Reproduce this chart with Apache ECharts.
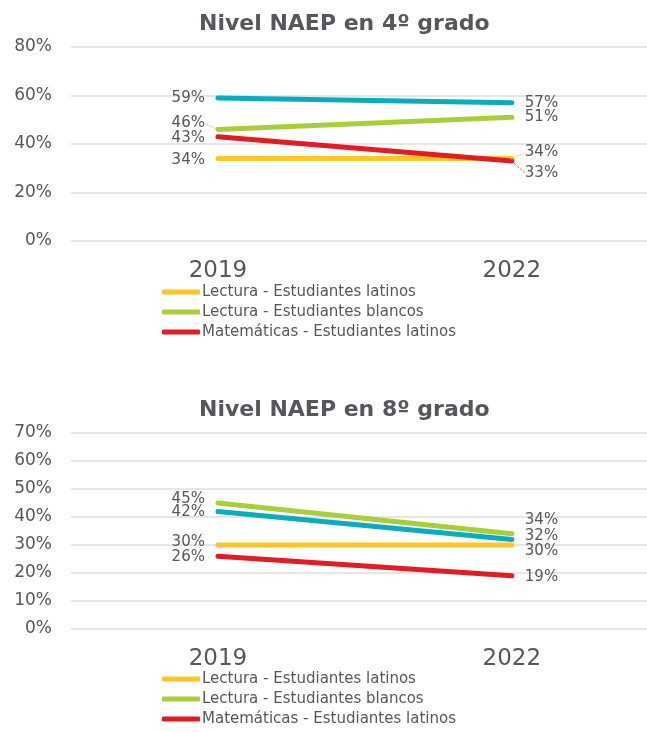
<!DOCTYPE html>
<html>
<head>
<meta charset="utf-8">
<script src="https://cdn.jsdelivr.net/npm/echarts@6/dist/echarts.min.js"></script>
<style>
  html, body { margin: 0; padding: 0; background: #fff; }
  #main { width: 647px; height: 732px; }
</style>
</head>
<body>
<div id="main"></div>
<script>
// años y nombres de las series
var years = [2019, 2022];
var seriesNames = ['Lectura - Estudiantes latinos', 'Lectura - Estudiantes blancos',
    'Matemáticas - Estudiantes latinos', 'Matemáticas - Estudiantes blancos'];
var legendNames = seriesNames.slice(0, 3);

// 4º grado
var g4Lectura_latinos = [34, 34];
var g4Lectura_blancos = [46, 51];
var g4Mate_latinos = [43, 33];
var g4Mate_blancos = [59, 57];
var g4Ticks = [0, 20, 40, 60, 80];

// 8º grado
var g8Lectura_latinos = [30, 30];
var g8Lectura_blancos = [45, 34];
var g8Mate_latinos = [26, 19];
var g8Mate_blancos = [42, 32];
var g8Ticks = [0, 10, 20, 30, 40, 50, 60, 70];

var colors = ['#FFC425', '#A9CF38', '#E31B23', '#0AADBF'];
var textColor = '#55575b';
var font = 'DejaVu Sans';

// desplazamiento vertical de las etiquetas (2019, 2022)
var g4Offsets = [[2, -6], [-6, 0], [1, 12], [0, 0]];
var g8Offsets = [[-3, 6], [-4, -14], [1, 1], [1, -3]];
// etiquetas con línea guía punteada
var g4Guides = [[false, true], [true, false], [false, true], [false, false]];
var g8Guides = [[false, false], [false, false], [false, false], [false, false]];

function makeLayout(off) {
    return function (params) {
        return { dy: off[params.dataIndex], hideOverlap: false };
    };
}

function buildSeries(idx, values, offsets, guides, order) {
    var list = [];
    for (var k = 0; k < order.length; k++) {
        var i = order[k];
        var data = [];
        for (var j = 0; j < years.length; j++) {
            data.push({
                value: [years[j], values[i][j]],
                label: { position: j === 0 ? 'left' : 'right' },
                labelLine: {
                    show: guides[i][j],
                    lineStyle: { color: colors[i], width: 1, type: 'dotted' }
                }
            });
        }
        list.push({
            name: seriesNames[i],
            type: 'line',
            xAxisIndex: idx,
            yAxisIndex: idx,
            data: data,
            symbol: 'circle',
            symbolSize: 2,
            showSymbol: true,
            color: colors[i],
            itemStyle: { color: colors[i] },
            lineStyle: { width: 5, cap: 'round', color: colors[i] },
            label: {
                show: true,
                distance: 12,
                formatter: function (p) { return p.value[1] + '%'; },
                color: textColor,
                fontFamily: font,
                fontSize: 15
            },
            labelLine: { length2: 0, smooth: false },
            labelLayout: makeLayout(offsets[i]),
            emphasis: { disabled: true },
            animation: false
        });
    }
    return list;
}

function yAxis(idx, ticks) {
    return {
        type: 'value',
        gridIndex: idx,
        min: ticks[0],
        max: ticks[ticks.length - 1],
        interval: ticks[1] - ticks[0],
        axisLine: { show: false },
        axisTick: { show: false },
        axisLabel: {
            formatter: '{value}%',
            color: textColor,
            fontFamily: font,
            fontSize: 17,
            margin: 19
        },
        splitLine: { lineStyle: { color: '#dedede', width: 1.5 } }
    };
}

function xAxis(idx) {
    return {
        type: 'value',
        gridIndex: idx,
        min: 2017.5,
        max: 2023.38,
        axisLine: { show: false },
        axisTick: { show: false },
        splitLine: { show: false },
        axisLabel: {
            customValues: years,
            formatter: function (v) { return String(v); },
            color: textColor,
            fontFamily: font,
            fontSize: 23,
            margin: 19
        }
    };
}

function legend(top) {
    var data = [];
    for (var i = 0; i < legendNames.length; i++) {
        data.push({ name: legendNames[i], itemStyle: { color: colors[i] } });
    }
    return {
        data: data,
        orient: 'vertical',
        left: 162,
        top: top,
        padding: 0,
        icon: 'roundRect',
        itemWidth: 38,
        itemHeight: 5,
        itemGap: 4,
        selectedMode: false,
        textStyle: {
            color: textColor,
            fontFamily: font,
            fontSize: 15,
            lineHeight: 16,
            padding: [0, 0, 0, -3]
        }
    };
}

var g4Values = [g4Lectura_latinos, g4Lectura_blancos, g4Mate_latinos, g4Mate_blancos];
var g8Values = [g8Lectura_latinos, g8Lectura_blancos, g8Mate_latinos, g8Mate_blancos];

var chart = echarts.init(document.getElementById('main'));
var option = {
    backgroundColor: '#fff',
    title: [{
        text: 'Nivel NAEP en 4º grado',
        left: 194,
        top: 8,
        textStyle: { color: textColor, fontFamily: font, fontSize: 22, fontWeight: 'bold' }
    }, {
        text: 'Nivel NAEP en 8º grado',
        left: 194,
        top: 394,
        textStyle: { color: textColor, fontFamily: font, fontSize: 22, fontWeight: 'bold' }
    }],
    legend: [legend(284), legend(671)],
    grid: [
        { left: 71, right: 0, top: 47, height: 194 },
        { left: 71, right: 0, top: 433, height: 196 }
    ],
    xAxis: [xAxis(0), xAxis(1)],
    yAxis: [yAxis(0, g4Ticks), yAxis(1, g8Ticks)],
    series: buildSeries(0, g4Values, g4Offsets, g4Guides, [0, 1, 2, 3])
        .concat(buildSeries(1, g8Values, g8Offsets, g8Guides, [0, 1, 3, 2]))
};
chart.setOption(option);
</script>
</body>
</html>
